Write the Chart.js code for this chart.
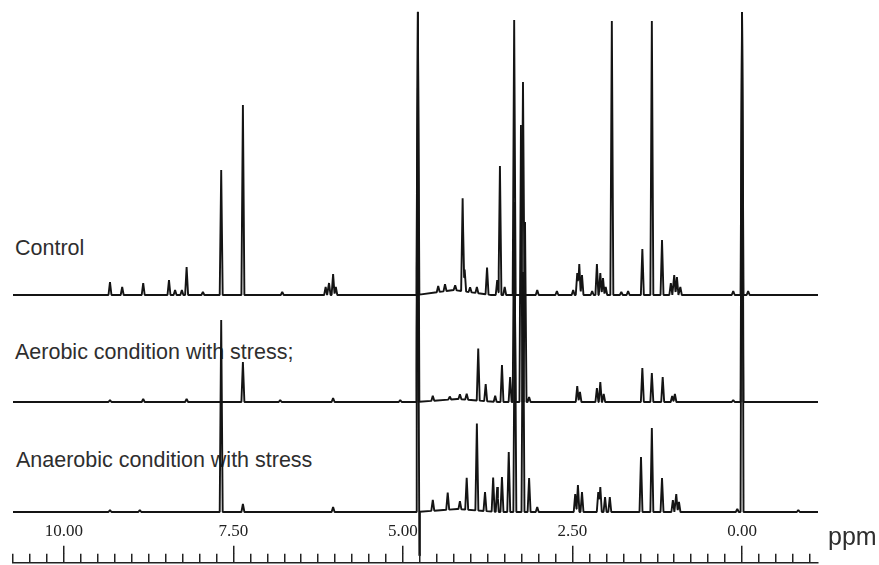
<!DOCTYPE html>
<html>
<head>
<meta charset="utf-8">
<script src="https://cdn.jsdelivr.net/npm/chart.js@4.4.1/dist/chart.umd.min.js"></script>
<style>
  body { margin: 0; background: #fff; }
  #wrap { position: relative; width: 879px; height: 565px; overflow: hidden; }
  #wrap canvas { position: absolute; left: 0; }
  #specChart { top: 0; z-index: 2; }
  #rulerChart { top: 505px; z-index: 3; }
  .lbl { position: absolute; z-index: 1; font-family: "Liberation Sans", Arial, sans-serif; color: #2e2e2e; white-space: nowrap; }
</style>
</head>
<body>
<div id="wrap">
  <div class="lbl" style="left:15px; top:238px; font-size:21.5px; line-height:21.5px;">Control</div>
  <div class="lbl" style="left:15px; top:342px; font-size:21.5px; line-height:21.5px;">Aerobic condition with stress;</div>
  <div class="lbl" style="left:16px; top:450px; font-size:21.5px; line-height:21.5px;">Anaerobic condition with stress</div>
  <div class="lbl" style="left:828px; top:524px; font-size:25px; line-height:25px; z-index:4;">ppm</div>
  <canvas id="specChart" width="879" height="565"></canvas>
  <canvas id="rulerChart" width="879" height="82"></canvas>
</div>
<script>
// ppm range shown (axis is reversed, high ppm on the left)
const ppmMin = -1.12;
const ppmMax = 10.75;
const majorTicks = [10, 7.5, 5, 2.5, 0];

// peak positions (ppm) and heights
const controlPpm = [9.32, 9.14, 8.83, 8.45, 8.36, 8.26, 8.19, 7.95, 7.68, 7.36, 6.78, 6.14, 6.09, 6.03, 5.99,
  4.78, 4.48, 4.38, 4.23, 4.12, 4.09, 4.01, 3.91, 3.76, 3.61, 3.57, 3.50, 3.36, 3.23, 3.02, 2.73, 2.49,
  2.43, 2.40, 2.36, 2.21, 2.14, 2.09, 2.05, 2.01, 1.92, 1.78, 1.68, 1.47, 1.33, 1.18, 1.05, 1.00, 0.96,
  0.91, 0.13, 0.00, -0.09];
const controlHeight = [13, 8, 12, 15, 5, 5, 28, 3, 125, 190, 3, 8, 12, 21, 8,
  283, 6, 7, 5, 93, 22, 5, 6, 27, 15, 129, 8, 275, 213, 5, 4, 5,
  22, 31, 20, 4, 31, 22, 17, 8, 274, 3, 4, 46, 274, 55, 12, 20, 18,
  8, 4, 283, 4];
const controlHump = [4.25, 5, 0.55];

const aerobicPpm = [9.32, 8.83, 8.19, 7.36, 6.81, 6.03, 5.04, 4.78, 4.56, 4.31, 4.16, 4.06, 3.89, 3.78,
  3.64, 3.54, 3.42, 3.36, 3.26, 3.20, 3.14, 2.43, 2.39, 2.14, 2.09, 2.04, 1.47, 1.33, 1.17, 1.03, 0.99,
  0.13, 0.00];
const aerobicHeight = [2, 3, 3, 40, 2, 4, 2, 390, 5, 3, 5, 6, 52, 17,
  6, 37, 25, 200, 277, 180, 5, 16, 10, 14, 20, 8, 34, 29, 25, 6, 8,
  2, 390];
const aerobicHump = [4.2, 3, 0.6];

const anaerobicPpm = [9.32, 8.88, 7.68, 7.36, 6.03, 4.78, 4.772, 4.56, 4.34, 4.16, 4.06, 3.91, 3.79, 3.67,
  3.61, 3.54, 3.44, 3.35, 3.23, 3.14, 3.02, 2.46, 2.42, 2.36, 2.12, 2.09, 2.02, 1.95, 1.49, 1.33, 1.18,
  1.02, 0.97, 0.93, 0.07, 0.00, -0.83];
const anaerobicHeight = [2, 2, 192, 8, 5, 500, -120, 11, 17, 8, 32, 87, 19, 34,
  25, 35, 60, 230, 240, 34, 5, 18, 27, 20, 20, 25, 15, 15, 55, 84, 34,
  12, 18, 10, 3, 500, 2];
const anaerobicHump = [4.2, 3, 0.6];

const halfWidth = 0.022;

// vertical stacking of the three traces (y units = pixels from the bottom)
const offsets = { control: 270, aerobic: 163, anaerobic: 53 };

function buildTrace(ppm, height, hump, offset) {
  const peaks = ppm.map((p, i) => [p, height[i], halfWidth]);
  peaks.push(hump);
  let xs = [ppmMin, ppmMax];
  peaks.forEach(pk => { xs.push(pk[0] - pk[2], pk[0], pk[0] + pk[2]); });
  xs = xs.filter(x => x >= ppmMin && x <= ppmMax).sort((a, b) => b - a);
  return xs.map(x => {
    let y = 0;
    peaks.forEach(pk => {
      const d = Math.abs(x - pk[0]) / pk[2];
      if (d < 1) y += pk[1] * (1 - d);
    });
    return { x: x, y: offset + y };
  });
}

const lineStyle = {
  borderColor: "#141414",
  borderWidth: 1.9,
  borderJoinStyle: "bevel",
  pointRadius: 0,
  tension: 0,
  fill: false,
};

//stacked spectra
const ctx = document.getElementById("specChart");
new Chart(ctx, {
  type: "line",
  data: {
    datasets: [
      { label: "Control", data: buildTrace(controlPpm, controlHeight, controlHump, offsets.control), ...lineStyle },
      { label: "Aerobic condition with stress;", data: buildTrace(aerobicPpm, aerobicHeight, aerobicHump, offsets.aerobic), ...lineStyle },
      { label: "Anaerobic condition with stress", data: buildTrace(anaerobicPpm, anaerobicHeight, anaerobicHump, offsets.anaerobic), ...lineStyle },
    ],
  },
  options: {
    responsive: false,
    animation: false,
    layout: { padding: { left: 13, right: 61, top: 0, bottom: 0 } },
    plugins: { legend: { display: false }, tooltip: { enabled: false } },
    scales: {
      x: { type: "linear", min: ppmMin, max: ppmMax, reverse: true, display: false },
      y: { min: 0, max: 565, display: false },
    },
  },
});

//ppm ruler under the spectra (its lower part falls outside the page and is cut off)
const ctx2 = document.getElementById("rulerChart");
new Chart(ctx2, {
  type: "line",
  data: { datasets: [] },
  options: {
    responsive: false,
    animation: false,
    layout: { padding: { left: 13, right: 61, top: 15.6, bottom: 0 } },
    plugins: { legend: { display: false }, tooltip: { enabled: false } },
    scales: {
      x: {
        type: "linear",
        position: "top",
        min: ppmMin,
        max: ppmMax,
        reverse: true,
        afterBuildTicks: (scale) => {
          scale.ticks = majorTicks.map(v => ({ value: v }));
        },
        ticks: {
          callback: (v) => Number(v).toFixed(2),
          font: { family: "Liberation Serif", size: 17 },
          color: "#222",
          padding: 4,
          maxRotation: 0,
          autoSkip: false,
        },
        grid: { drawOnChartArea: false, tickLength: 8, color: "#222", lineWidth: 1.5 },
        border: { display: false },
      },
      xm: {
        type: "linear",
        axis: "x",
        position: "bottom",
        min: ppmMin,
        max: ppmMax,
        reverse: true,
        afterBuildTicks: (scale) => {
          const t = [];
          for (let v = 10.75; v >= -1.0; v -= 0.25) t.push({ value: v });
          scale.ticks = t;
        },
        ticks: {
          color: "rgba(0,0,0,0)",
          font: { size: 20 },
          padding: 0,
          maxRotation: 0,
          autoSkip: false,
          callback: () => "0",
        },
        grid: { drawOnChartArea: true, drawTicks: false, color: "#222", lineWidth: 1.5 },
        border: { display: true, color: "#222", width: 1.5 },
      },
      y: { display: false, min: 0, max: 1 },
    },
  },
});
</script>
</body>
</html>
